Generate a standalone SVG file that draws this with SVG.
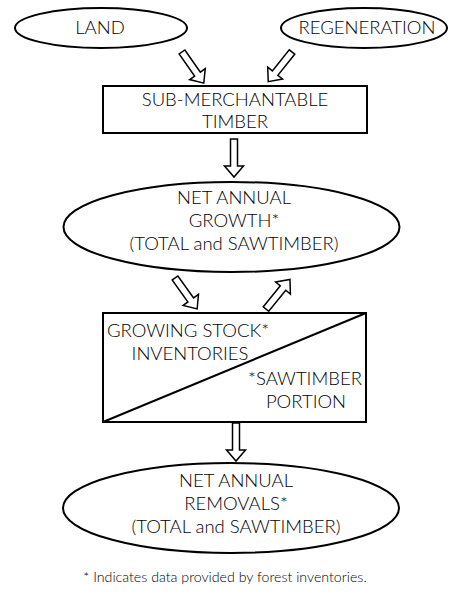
<svg xmlns="http://www.w3.org/2000/svg" xmlns:xlink="http://www.w3.org/1999/xlink" width="450" height="599" viewBox="0 0 450 599">
  <style>
    .shape { fill: #ffffff; stroke: #000000; stroke-width: 2; }
    .label { font-family: Lato, "Liberation Sans", sans-serif; font-weight: 300; font-size: 18.5px; fill: #000000; text-anchor: middle; }
    .note { font-family: Lato, "Liberation Sans", sans-serif; font-weight: 300; font-size: 14.2px; fill: #000000; text-anchor: middle; }
    .arrow { fill: #ffffff; stroke: #000000; stroke-width: 1.5; stroke-linejoin: miter; }
  </style>
  <defs>
    <!-- hollow block arrow, tail at origin pointing along +x -->
    <path id="blockArrow" d="M0,-3.5 L27,-3.5 L27,-9.5 L38,0 L27,9.5 L27,3.5 L0,3.5 Z"/>
  </defs>
  <rect width="450" height="599" fill="#ffffff"/>

  <g id="connectors">
    <use xlink:href="#blockArrow" class="arrow" transform="translate(182,52) rotate(55)"/>
    <use xlink:href="#blockArrow" class="arrow" transform="translate(292,52) rotate(128.7)"/>
    <use xlink:href="#blockArrow" class="arrow" transform="translate(234,139) rotate(90)"/>
    <use xlink:href="#blockArrow" class="arrow" transform="translate(175,278) rotate(54.3)"/>
    <use xlink:href="#blockArrow" class="arrow" transform="translate(266,309) rotate(-50.9)"/>
    <use xlink:href="#blockArrow" class="arrow" transform="translate(236,423) rotate(90)"/>
  </g>

  <g id="land">
    <ellipse class="shape" cx="101" cy="28" rx="86" ry="20"/>
    <text class="label" x="100" y="34">LAND</text>
  </g>

  <g id="regeneration">
    <ellipse class="shape" cx="364" cy="28" rx="83" ry="20"/>
    <text class="label" x="367" y="34">REGENERATION</text>
  </g>

  <g id="sub-merchantable">
    <rect class="shape" x="103" y="86" width="264" height="47"/>
    <text class="label" x="235" y="106">SUB-MERCHANTABLE</text>
    <text class="label" x="235" y="128">TIMBER</text>
  </g>

  <g id="net-annual-growth">
    <ellipse class="shape" cx="231.5" cy="227" rx="168" ry="45"/>
    <text class="label" x="234" y="204">NET ANNUAL</text>
    <text class="label" x="234" y="227">GROWTH*</text>
    <text class="label" x="234" y="250">(TOTAL and SAWTIMBER)</text>
  </g>

  <g id="growing-stock">
    <rect class="shape" x="103" y="313" width="263" height="109"/>
    <line x1="103" y1="422" x2="366" y2="313" stroke="#000000" stroke-width="2"/>
    <text class="label" x="188" y="337">GROWING STOCK*</text>
    <text class="label" x="190" y="360">INVENTORIES</text>
    <text class="label" x="305" y="385">*SAWTIMBER</text>
    <text class="label" x="306" y="408">PORTION</text>
  </g>

  <g id="net-annual-removals">
    <ellipse class="shape" cx="231" cy="508" rx="168" ry="45"/>
    <text class="label" x="236" y="487">NET ANNUAL</text>
    <text class="label" x="236" y="510">REMOVALS*</text>
    <text class="label" x="236" y="533">(TOTAL and SAWTIMBER)</text>
  </g>

  <text class="note" x="225" y="582">* Indicates data provided by forest inventories.</text>
</svg>
